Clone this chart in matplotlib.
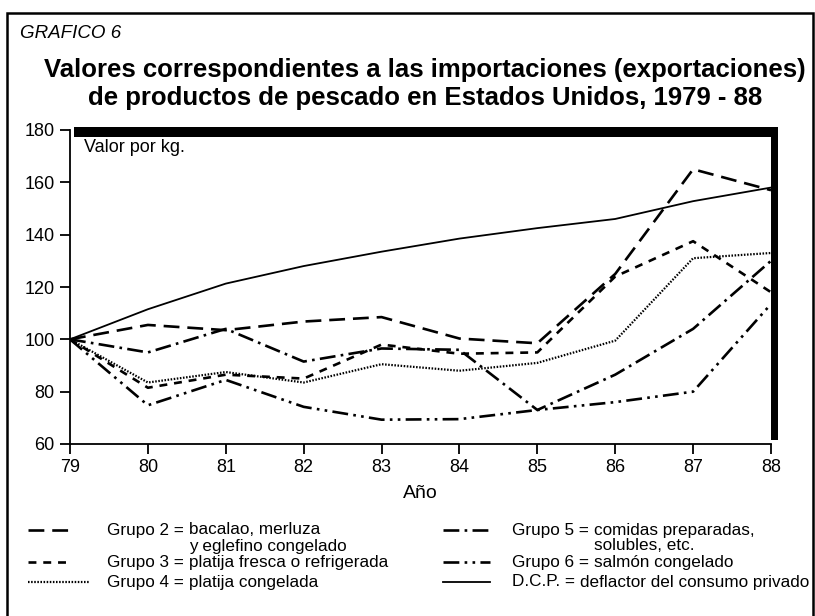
import matplotlib.pyplot as plt
from matplotlib.lines import Line2D
from matplotlib.patches import Rectangle

plt.rcParams['font.family'] = ['Liberation Sans', 'DejaVu Sans']

years = [79, 80, 81, 82, 83, 84, 85, 86, 87, 88]
grupo2 = [100, 105.5, 103.5, 106.8, 108.5, 100.3, 98.5, 125, 165, 157]
grupo3 = [100, 81.5, 86.5, 85, 98, 94.5, 95, 124, 137.5, 118]
grupo4 = [100, 83.5, 87.5, 83.5, 90.5, 88, 91, 99.5, 131, 133]
grupo5 = [100, 95, 104, 91.5, 96.5, 96, 73, 86.5, 104, 130]
grupo6 = [100, 74.8, 84.5, 74.2, 69.3, 69.5, 73, 76, 80, 113.5]
dcp = [100, 111.5, 121.3, 128, 133.5, 138.5, 142.5, 146, 152.8, 158]

yticks = [60, 80, 100, 120, 140, 160, 180]

W, H = 815, 616
fig = plt.figure(figsize=(W / 100, H / 100), dpi=100)


def fx(px):
    return px / W


def fy(py):
    return 1 - py / H


ax = fig.add_axes([fx(70), fy(444), fx(771) - fx(70), fy(130) - fy(444)])

styles = {
    'g2': dict(lw=1.9, dashes=(6, 3)),
    'g3': dict(lw=1.9, dashes=(3, 2.6)),
    'g4': dict(lw=1.6, dashes=(0.7, 0.7)),
    'g5': dict(lw=1.9, dashes=(6, 2, 1, 2)),
    'g6': dict(lw=1.9, dashes=(6, 2, 1, 2, 1, 2)),
    'dcp': dict(lw=1.3, ls='-'),
}

ax.plot(years, grupo2, color='black', **styles['g2'])
ax.plot(years, grupo3, color='black', **styles['g3'])
ax.plot(years, grupo4, color='black', **styles['g4'])
ax.plot(years, grupo5, color='black', **styles['g5'])
ax.plot(years, grupo6, color='black', **styles['g6'])
ax.plot(years, dcp, color='black', **styles['dcp'])

ax.set_xlim(79, 88)
ax.set_ylim(60, 180)
ax.set_xticks(years)
ax.set_xticklabels([str(y) for y in years])
ax.set_yticks(yticks)
ax.tick_params(direction='out', length=7, width=1.3, labelsize=13, pad=4)
ax.spines['top'].set_visible(False)
ax.spines['right'].set_visible(False)
ax.spines['left'].set_linewidth(1.3)
ax.spines['bottom'].set_linewidth(1.3)
ax.set_xlabel('Año', fontsize=14, labelpad=6)

ax.text(0.02, 0.97, 'Valor por kg.', transform=ax.transAxes, fontsize=13,
        va='top', ha='left')

# thick shadow bars along top and right
fig.add_artist(Rectangle((fx(74), fy(137)), fx(778) - fx(74), fy(127) - fy(137),
                         color='black', lw=0))
fig.add_artist(Rectangle((fx(771), fy(440)), fx(778) - fx(771), fy(127) - fy(440),
                         color='black', lw=0))

# outer frame
fig.add_artist(Rectangle((fx(7), fy(620)), fx(813) - fx(7), fy(13) - fy(620),
                         fill=False, edgecolor='black', lw=1.8))

fig.text(fx(20), fy(34), 'GRAFICO 6', fontsize=13.5, style='italic',
         va='center', ha='left')
fig.text(fx(425), fy(70), 'Valores correspondientes a las importaciones (exportaciones)',
         fontsize=18.5, weight='bold', ha='center', va='center')
fig.text(fx(425), fy(98), 'de productos de pescado en Estados Unidos, 1979 - 88',
         fontsize=18.5, weight='bold', ha='center', va='center')

# legend
legend_rows = [
    ('g2', 28, 68, 107, 530, 'Grupo 2 = ', 'bacalao, merluza', 'y eglefino congelado'),
    ('g3', 28, 68, 107, 562, 'Grupo 3 = ', 'platija fresca o refrigerada', None),
    ('g4', 28, 90, 107, 582, 'Grupo 4 = ', 'platija congelada', None),
    ('g5', 443, 490, 512, 530, 'Grupo 5 = ', 'comidas preparadas,', 'solubles, etc.'),
    ('g6', 443, 490, 512, 562, 'Grupo 6 = ', 'salmón congelado', None),
    ('dcp', 443, 490, 512, 582, 'D.C.P. = ', 'deflactor del consumo privado', None),
]
renderer = fig.canvas.get_renderer()
for key, x0, x1, xt, y, head, body, extra in legend_rows:
    fig.add_artist(Line2D([fx(x0), fx(x1)], [fy(y), fy(y)], color='black',
                          **styles[key]))
    t = fig.text(fx(xt), fy(y), head, fontsize=12.3, va='center', ha='left')
    xb = t.get_window_extent(renderer).x1
    fig.text(xb / W, fy(y), body, fontsize=12.3, va='center', ha='left')
    if extra:
        fig.text(xb / W, fy(y + 16), extra, fontsize=12.3, va='center', ha='left')

fig.savefig('out.png', dpi=100)
